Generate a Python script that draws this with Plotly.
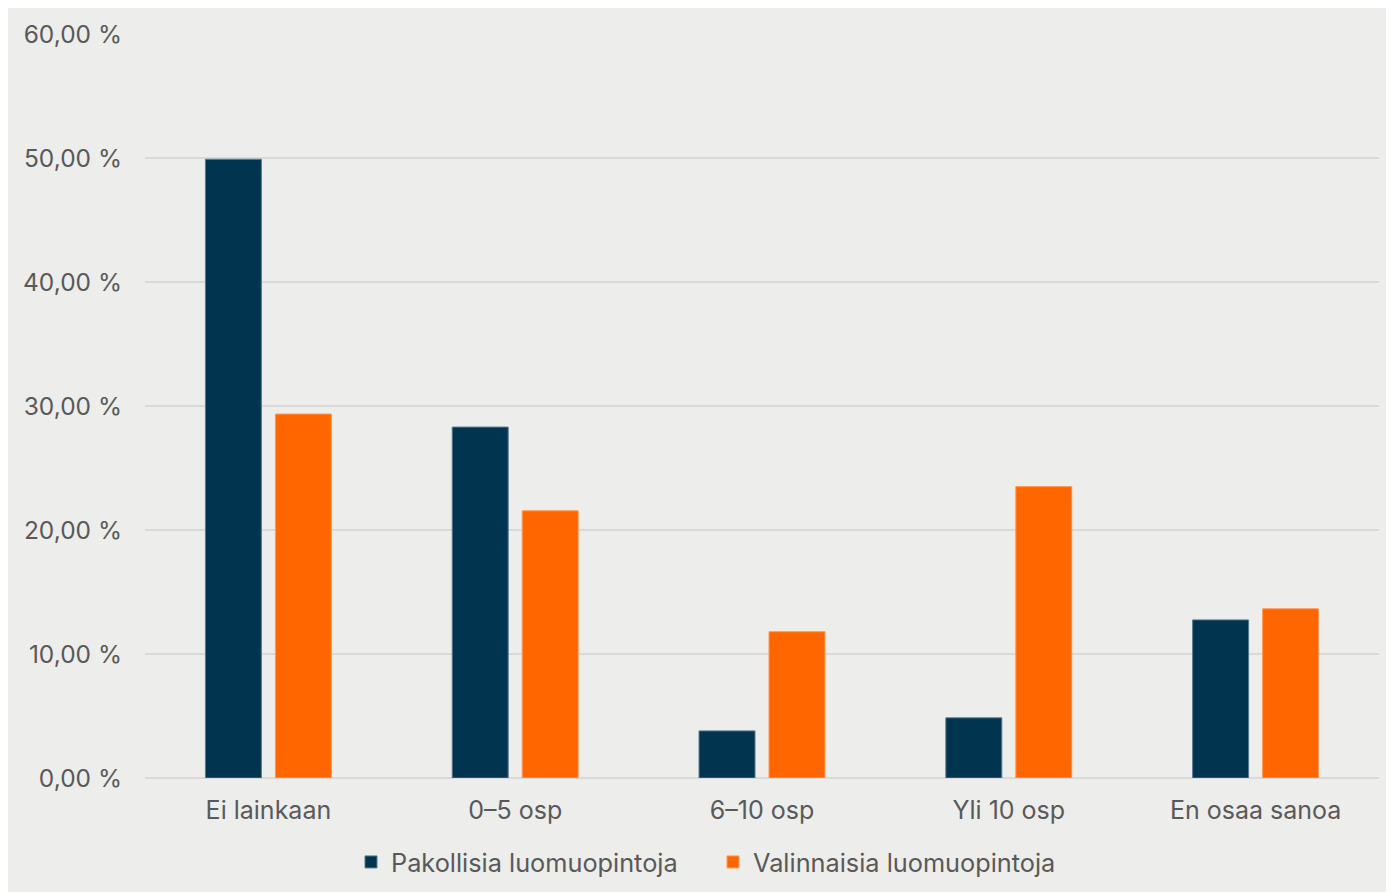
import plotly.graph_objects as go

categories = ["Ei lainkaan", "0–5 osp", "6–10 osp", "Yli 10 osp", "En osaa sanoa"]
pakollisia = [49.9, 28.3, 3.8, 4.85, 12.75]
valinnaisia = [29.35, 21.55, 11.8, 23.5, 13.65]
series_names = ["Pakollisia luomuopintoja", "Valinnaisia luomuopintoja"]
y_tick_values = [0, 10, 20, 30, 40, 50, 60]
y_tick_labels = ["0,00 %", "10,00 %", "20,00 %", "30,00 %", "40,00 %", "50,00 %", "60,00 %"]

W, H = 1394, 892
L, R, T, B = 137, 23, 26, 122
pw, ph = W - L - R, H - T - B


def px(x):
    return (x - L) / pw


def py(y):
    return (H - B - y) / ph


FAM = "Inter, 'Noto Sans', sans-serif"
GREY = "#595959"

fig = go.Figure()
fig.add_trace(go.Bar(x=categories, y=pakollisia, name=series_names[0],
                     marker=dict(color="#01354F", line=dict(color="#5a7890", width=1))))
fig.add_trace(go.Bar(x=categories, y=valinnaisia, name=series_names[1],
                     marker=dict(color="#FF6600", line=dict(color="#FF9a55", width=1))))

fig.update_layout(
    width=W, height=H,
    margin=dict(l=L, r=R, t=T, b=B),
    paper_bgcolor="#EDEDEB",
    plot_bgcolor="#EDEDEB",
    barmode="group",
    bargap=0.433,
    bargroupgap=0.2,
    font=dict(family=FAM, size=25, color=GREY),
    showlegend=True,
    legend=dict(orientation="h", x=px(343), xanchor="left", y=py(831), yanchor="top",
                font=dict(family=FAM, size=25.3, color=GREY), bgcolor="rgba(0,0,0,0)",
                entrywidth=317, itemclick=False),
    xaxis=dict(showgrid=False, showline=False, ticks="",
               tickfont=dict(family=FAM, size=25, color=GREY),
               ticklabelstandoff=15),
    yaxis=dict(range=[0, 60], tickvals=y_tick_values, ticktext=y_tick_labels,
               showgrid=True, gridcolor="#D9D9D9", gridwidth=1.5,
               zeroline=True, zerolinecolor="#D9D9D9", zerolinewidth=1.5,
               showline=False, ticks="",
               tickfont=dict(family=FAM, size=24.5, color=GREY),
               ticklabelstandoff=22),
)

fig.write_html("out.html")
